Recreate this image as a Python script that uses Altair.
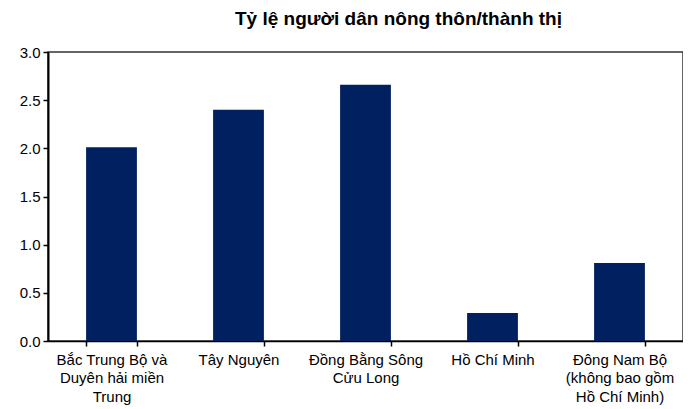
import altair as alt
import pandas as pd

categories = [
    "Bắc Trung Bộ và\nDuyên hải miền\nTrung",
    "Tây Nguyên",
    "Đồng Bằng Sông\nCửu Long",
    "Hồ Chí Minh",
    "Đông Nam Bộ\n(không bao gồm\nHồ Chí Minh)",
]
ratios = [2.01, 2.40, 2.66, 0.29, 0.81]
y_ticks = [0.0, 0.5, 1.0, 1.5, 2.0, 2.5, 3.0]
title_text = "Tỷ lệ người dân nông thôn/thành thị"

df = pd.DataFrame({"region": categories, "ratio": ratios})

FONT = "Liberation Sans"

chart = (
    alt.Chart(df)
    .mark_bar(color="#00205F")
    .encode(
        x=alt.X(
            "region:N",
            sort=categories,
            title=None,
            scale=alt.Scale(paddingInner=0.6, paddingOuter=0.3),
            axis=alt.Axis(
                labelAngle=0,
                labelExpr="split(datum.label, '\\n')",
                labelFont=FONT,
                labelFontSize=15,
                labelColor="black",
                labelLineHeight=18.5,
                labelPadding=6,
                tickBand="extent",
                tickSize=5,
                tickColor="black",
                tickWidth=1.5,
                domainColor="black",
                domainWidth=1.5,
                labelLimit=200,
            ),
        ),
        y=alt.Y(
            "ratio:Q",
            title=None,
            scale=alt.Scale(domain=[0, 3], nice=False),
            axis=alt.Axis(
                values=y_ticks,
                format=".1f",
                grid=False,
                labelFont=FONT,
                labelFontSize=15,
                labelColor="black",
                labelPadding=3,
                tickSize=5,
                tickColor="black",
                tickWidth=1.5,
                domainColor="black",
                domainWidth=2,
            ),
        ),
    )
    .properties(
        width=635,
        height=289,
        title=alt.TitleParams(
            title_text,
            font=FONT,
            fontSize=19,
            fontWeight="bold",
            color="black",
            anchor="middle",
            frame="group",
            dx=33,
            offset=16,
        ),
        autosize=alt.AutoSizeParams(type="none"),
        padding={"left": 40, "top": 44, "right": 0, "bottom": 68},
    )
    .configure_view(stroke="#333333", strokeWidth=1.5)
)

chart.save("out.html", embed_options={"renderer": "svg", "actions": False})
